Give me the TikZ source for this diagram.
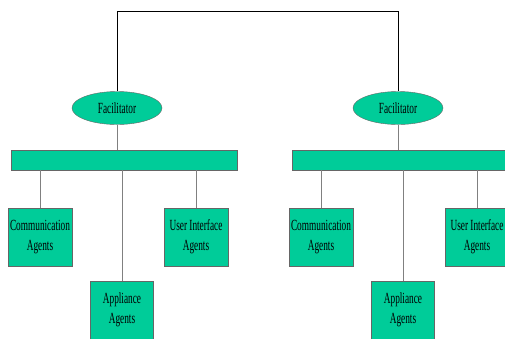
\documentclass[tikz,border=0pt]{standalone}
\usepackage{fontspec}
\setmainfont[FakeStretch=0.6]{Liberation Serif}
\usetikzlibrary{shapes.geometric}
\definecolor{agentgreen}{RGB}{0,204,153}

\begin{document}
\begin{tikzpicture}[x=1pt,y=-1pt,
  part/.style={draw=black!60,fill=agentgreen,inner sep=0pt,align=center,
    font=\fontsize{15.5}{20}\selectfont},
  agentbox/.style={part,rectangle,minimum width=64pt,minimum height=58pt},
  link/.style={gray,thin}]
  \useasboundingbox (0,0) rectangle (505,338);
  \foreach \s/\dx in {L/0,R/281}{
    \node[part,ellipse,minimum width=90pt,minimum height=33pt] (fac\s) at (117+\dx,108) {Facilitator};
    \node[part,rectangle,minimum width=226pt,minimum height=20pt] (bar\s) at (124+\dx,160) {};
    \node[agentbox] (com\s) at (40+\dx,237) {Communication\\Agents};
    \node[agentbox,minimum width=63pt] (app\s) at (122+\dx,310) {Appliance\\Agents};
    \node[agentbox] (ui\s) at (196+\dx,237) {User Interface\\Agents};
    \draw[link] (fac\s.south) -- (fac\s.south |- bar\s.north);
    \draw[link] (com\s.north) -- (com\s.north |- bar\s.south);
    \draw[link] (app\s.north) -- (app\s.north |- bar\s.south);
    \draw[link] (ui\s.north) -- (ui\s.north |- bar\s.south);
  }
  \draw[line width=0.9pt] (facL.north) -- ++(0,-80) -| (facR.north);
\end{tikzpicture}
\end{document}
